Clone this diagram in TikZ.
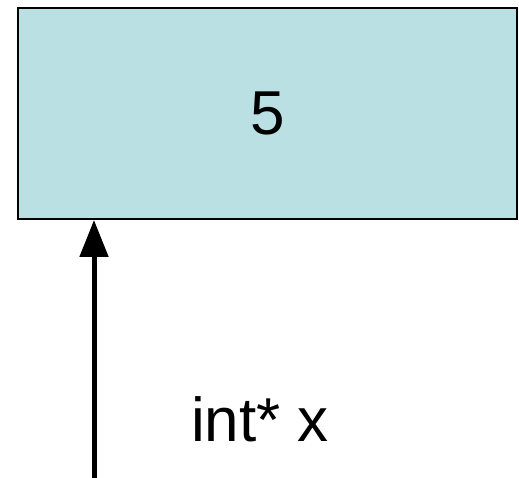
\documentclass[tikz,border=0pt]{standalone}
\usepackage{fontspec}
\setmainfont{Liberation Sans}
\usetikzlibrary{arrows.meta}
\definecolor{boxfill}{RGB}{187,224,227}
\begin{document}
\begin{tikzpicture}[x=1pt,y=1pt,
  membox/.style={draw=black,line width=2pt,fill=boxfill,minimum width=499pt,minimum height=211pt,inner sep=0pt},
  bigtext/.style={font=\fontsize{62}{70}\selectfont},
  ptr/.style={line width=5pt,-{Triangle[length=37pt,width=28pt]}}]
\useasboundingbox (0,0) rectangle (519,477);
\node[membox,bigtext] (box) at (267.5,363.5) {5};
\coordinate (start) at (94,-3);
\draw[ptr] (start) -- (box.south -| start);
\node[bigtext,anchor=base] (lbl) at (260,36) {int* x};
\end{tikzpicture}
\end{document}
